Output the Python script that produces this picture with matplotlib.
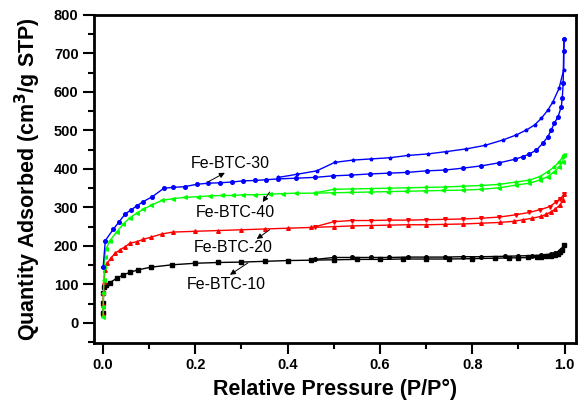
import matplotlib
matplotlib.use('Agg')
import matplotlib.pyplot as plt
from matplotlib.ticker import MultipleLocator

plt.rcParams['font.family'] = ['Liberation Sans', 'DejaVu Sans']

# Fe-BTC-10 (black)
p_ads_10 = [0.0002, 0.0005, 0.001, 0.002, 0.006, 0.015, 0.03, 0.044, 0.058, 0.076, 0.105, 0.15,
            0.2, 0.25, 0.3, 0.35, 0.4, 0.45, 0.5, 0.55, 0.6, 0.65, 0.7, 0.75, 0.8, 0.85, 0.88,
            0.9, 0.92, 0.94, 0.95, 0.96, 0.97, 0.98, 0.985, 0.99, 0.995, 0.999]
v_ads_10 = [25, 51, 77, 94, 99, 105, 116, 125, 131, 138, 145, 151,
            155, 157, 158, 160, 162, 163, 164, 165, 165, 166, 166, 166, 167, 168, 169,
            169, 170, 171, 172, 173, 175, 177, 179, 183, 190, 202]
p_des_10 = [0.999, 0.99, 0.98, 0.97, 0.95, 0.93, 0.9, 0.87, 0.82, 0.78, 0.74, 0.7, 0.66,
            0.62, 0.58, 0.54, 0.5, 0.46]
v_des_10 = [202, 188, 182, 179, 176, 175, 174, 173, 172, 172, 171, 171, 171,
            170, 170, 170, 170, 165]

# Fe-BTC-20 (red)
p_ads_20 = [0.0002, 0.0005, 0.001, 0.002, 0.004, 0.009, 0.017, 0.026, 0.037, 0.048, 0.058,
            0.073, 0.087, 0.105, 0.127, 0.152, 0.2, 0.25, 0.3, 0.35, 0.4, 0.45, 0.5, 0.54,
            0.58, 0.62, 0.66, 0.7, 0.74, 0.78, 0.82, 0.86, 0.89, 0.91, 0.93, 0.95, 0.96,
            0.97, 0.98, 0.99, 0.996, 0.999]
v_ads_20 = [21, 47, 77, 107, 138, 155, 168, 181, 190, 198, 207,
            211, 217, 223, 231, 236, 238, 240, 242, 244, 246, 248, 250, 252,
            253, 254, 255, 255, 256, 257, 259, 261, 264, 268, 272, 277, 282,
            288, 296, 306, 319, 334]
p_des_20 = [0.999, 0.99, 0.982, 0.968, 0.946, 0.924, 0.895, 0.859, 0.82, 0.78, 0.74, 0.70,
            0.66, 0.62, 0.58, 0.54, 0.50, 0.46]
v_des_20 = [334, 322, 315, 302, 294, 287, 281, 275, 272, 270, 269, 268,
            267, 267, 266, 266, 263, 250]

# Fe-BTC-30 (blue)
p_ads_30 = [0.0003, 0.005, 0.022, 0.035, 0.048, 0.06, 0.073, 0.087, 0.107, 0.132, 0.152,
            0.177, 0.203, 0.228, 0.253, 0.279, 0.304, 0.329, 0.354, 0.379, 0.419, 0.459,
            0.498, 0.538, 0.578, 0.62, 0.659, 0.701, 0.74, 0.78, 0.82, 0.859, 0.892, 0.91,
            0.924, 0.939, 0.953, 0.964, 0.971, 0.978, 0.986, 0.993, 0.995, 0.997, 0.998, 0.999]
v_ads_30 = [146, 214, 243, 263, 283, 293, 304, 315, 328, 350, 352,
            354, 360, 363, 364, 366, 369, 370, 372, 374, 376, 378,
            382, 384, 387, 389, 391, 395, 397, 402, 408, 416, 425, 432,
            439, 449, 467, 484, 501, 519, 536, 562, 584, 623, 707, 737]
p_des_30 = [0.999, 0.998, 0.988, 0.975, 0.964, 0.95, 0.935, 0.917, 0.895, 0.866, 0.827,
            0.787, 0.744, 0.704, 0.661, 0.621, 0.581, 0.542, 0.502, 0.463, 0.42, 0.38]
v_des_30 = [737, 657, 609, 575, 553, 532, 514, 501, 488, 475, 461,
            452, 445, 439, 435, 429, 426, 423, 417, 395, 386, 378]

# Fe-BTC-40 (green)
p_ads_40 = [0.0002, 0.0005, 0.001, 0.002, 0.003, 0.004, 0.006, 0.015, 0.03, 0.044, 0.058,
            0.073, 0.087, 0.105, 0.127, 0.152, 0.177, 0.206, 0.232, 0.257, 0.282, 0.304,
            0.329, 0.361, 0.39, 0.419, 0.459, 0.498, 0.538, 0.578, 0.618, 0.657, 0.697,
            0.737, 0.78, 0.82, 0.859, 0.895, 0.924, 0.946, 0.964, 0.978, 0.989, 0.996, 0.999]
v_ads_40 = [16, 42, 77, 112, 146, 172, 191, 214, 237, 257, 273,
            285, 295, 306, 318, 323, 326, 328, 330, 331, 331, 333,
            333, 334, 336, 337, 337, 338, 339, 340, 341, 342, 343,
            344, 345, 347, 351, 358, 363, 371, 380, 393, 406, 419, 436]
p_des_40 = [0.999, 0.996, 0.989, 0.978, 0.964, 0.946, 0.924, 0.895, 0.859, 0.82, 0.78,
            0.74, 0.70, 0.66, 0.62, 0.58, 0.54, 0.50, 0.46]
v_des_40 = [436, 432, 419, 406, 393, 380, 371, 366, 360, 357, 355,
            353, 352, 351, 350, 349, 348, 347, 338]

labels = ['Fe-BTC-10', 'Fe-BTC-20', 'Fe-BTC-30', 'Fe-BTC-40']
label_xy = [(0.268, 99), (0.281, 197), (0.275, 413), (0.286, 286)]
arrow_tail = [(0.314, 156), (0.361, 242), (0.227, 366), (0.361, 340)]
arrow_head = [(0.275, 125), (0.333, 218), (0.264, 390), (0.346, 314)]

fig = plt.figure(figsize=(5.79, 4.03), dpi=100)
ax = fig.add_axes([0.162, 0.149, 0.833, 0.814])

ms = 2.6
lw = 1.0
ax.plot(p_ads_10, v_ads_10, '-s', color='black', ms=ms, lw=lw)
ax.plot(p_des_10, v_des_10, '-o', color='black', ms=ms, lw=lw)
ax.plot(p_ads_20, v_ads_20, '-^', color='#ff0000', ms=ms, lw=lw)
ax.plot(p_des_20, v_des_20, '-v', color='#ff0000', ms=ms, lw=lw)
ax.plot(p_ads_40, v_ads_40, '-<', color='#00ff00', ms=ms, lw=lw)
ax.plot(p_des_40, v_des_40, '-*', color='#00ff00', ms=ms, lw=lw)
ax.plot(p_ads_30, v_ads_30, '-o', color='#0000ff', ms=ms, lw=lw)
ax.plot(p_des_30, v_des_30, '-*', color='#0000ff', ms=ms, lw=lw)

for lab, xy, tail, head in zip(labels, label_xy, arrow_tail, arrow_head):
    ax.text(xy[0], xy[1], lab, fontsize=11.5, ha='center', va='center')
    ax.annotate('', xy=head, xytext=tail,
                arrowprops=dict(arrowstyle='-|>', color='black', lw=0.7,
                                mutation_scale=8, shrinkA=0, shrinkB=0))

ax.set_xlim(-0.02, 1.025)
ax.set_ylim(-52, 800)
ax.xaxis.set_major_locator(MultipleLocator(0.2))
ax.xaxis.set_minor_locator(MultipleLocator(0.1))
ax.yaxis.set_major_locator(MultipleLocator(100))
ax.yaxis.set_minor_locator(MultipleLocator(50))
ax.set_yticks(range(0, 801, 100))
ax.xaxis.set_major_formatter(matplotlib.ticker.FormatStrFormatter('%.1f'))

for s in ax.spines.values():
    s.set_linewidth(2)
ax.tick_params(which='major', direction='out', length=8, width=1.5, labelsize=10.5, pad=3)
ax.tick_params(which='minor', direction='out', length=4.5, width=1.5)
for t in ax.get_xticklabels() + ax.get_yticklabels():
    t.set_fontweight('bold')

ax.set_xlabel('Relative Pressure (P/P°)', fontsize=15.5, fontweight='bold', labelpad=5)
ax.set_ylabel('Quantity Adsorbed (cm$^\\mathbf{3}$/g STP)', fontsize=15.5, fontweight='bold', labelpad=8)

fig.savefig('out.png', dpi=100)
